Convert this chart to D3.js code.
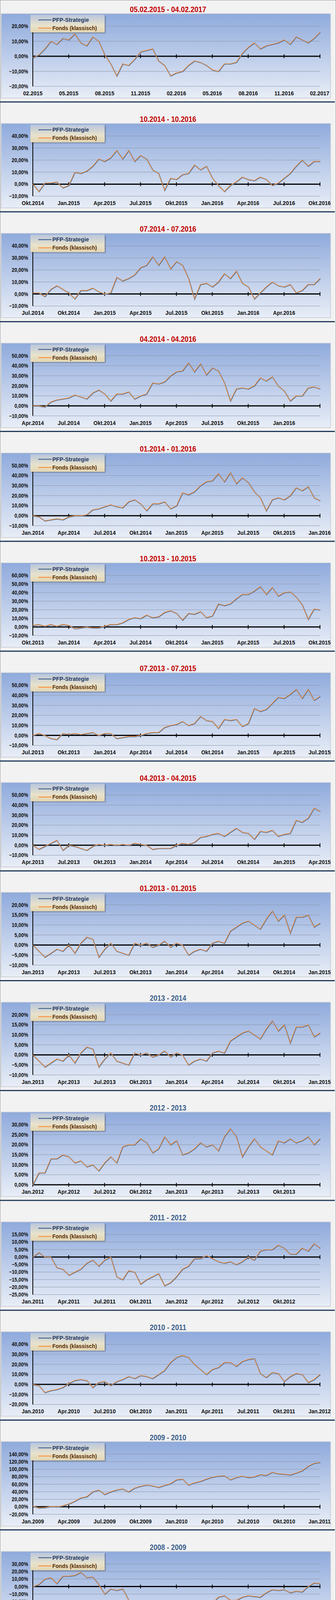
<!DOCTYPE html>
<html><head><meta charset="utf-8">
<script src="https://cdn.jsdelivr.net/npm/d3@7"></script>
<style>html,body{margin:0;padding:0;background:#f2f2f2;overflow:hidden}svg{display:block}</style>
</head><body><div id="c"></div>
<script>
const seriesNames = ["PFP-Strategie", "Fonds (klassisch)"];
const titles = ["05.02.2015 - 04.02.2017","10.2014 - 10.2016","07.2014 - 07.2016","04.2014 - 04.2016","01.2014 - 01.2016","10.2013 - 10.2015","07.2013 - 07.2015","04.2013 - 04.2015","01.2013 - 01.2015","2013 - 2014","2012 - 2013","2011 - 2012","2010 - 2011","2009 - 2010","2008 - 2009"];
const titleRed = [true,true,true,true,true,true,true,true,true,false,false,false,false,false,false];
const xLabels = [
 ["02.2015","05.2015","08.2015","11.2015","02.2016","05.2016","08.2016","11.2016","02.2017"],
 ["Okt.2014","Jan.2015","Apr.2015","Jul.2015","Okt.2015","Jan.2016","Apr.2016","Jul.2016","Okt.2016"],
 ["Jul.2014","Okt.2014","Jan.2015","Apr.2015","Jul.2015","Okt.2015","Jan.2016","Apr.2016",""],
 ["Apr.2014","Jul.2014","Okt.2014","Jan.2015","Apr.2015","Jul.2015","Okt.2015","Jan.2016",""],
 ["Jan.2014","Apr.2014","Jul.2014","Okt.2014","Jan.2015","Apr.2015","Jul.2015","Okt.2015","Jan.2016"],
 ["Okt.2013","Jan.2014","Apr.2014","Jul.2014","Okt.2014","Jan.2015","Apr.2015","Jul.2015","Okt.2015"],
 ["Jul.2013","Okt.2013","Jan.2014","Apr.2014","Jul.2014","Okt.2014","Jan.2015","Apr.2015","Jul.2015"],
 ["Apr.2013","Jul.2013","Okt.2013","Jan.2014","Apr.2014","Jul.2014","Okt.2014","Jan.2015","Apr.2015"],
 ["Jan.2013","Apr.2013","Jul.2013","Okt.2013","Jan.2014","Apr.2014","Jul.2014","Okt.2014","Jan.2015"],
 ["Jan.2013","Apr.2013","Jul.2013","Okt.2013","Jan.2014","Apr.2014","Jul.2014","Okt.2014","Jan.2015"],
 ["Jan.2012","Apr.2012","Jul.2012","Okt.2012","Jan.2013","Apr.2013","Jul.2013","Okt.2013",""],
 ["Jan.2011","Apr.2011","Jul.2011","Okt.2011","Jan.2012","Apr.2012","Jul.2012","Okt.2012",""],
 ["Jan.2010","Apr.2010","Jul.2010","Okt.2010","Jan.2011","Apr.2011","Jul.2011","Okt.2011","Jan.2012"],
 ["Jan.2009","Apr.2009","Jul.2009","Okt.2009","Jan.2010","Apr.2010","Jul.2010","Okt.2010","Jan.2011"],
 ["Jan.2008","Apr.2008","Jul.2008","Okt.2008","Jan.2009","Apr.2009","Jul.2009","Okt.2009",""]
];
const yTicks = [
 [20,10,0,-10,-20],[40,30,20,10,0,-10],[40,30,20,10,0,-10],[50,40,30,20,10,0,-10],[50,40,30,20,10,0,-10],
 [60,50,40,30,20,10,0,-10],[50,40,30,20,10,0,-10],[50,40,30,20,10,0,-10],[20,15,10,5,0,-5,-10],[20,15,10,5,0,-5,-10],
 [30,25,20,15,10,5,0],[15,10,5,0,-5,-10,-15,-20,-25],[40,30,20,10,0,-10,-20],[140,120,100,80,60,40,20,0,-20],[30,20,10,0,-10,-20,-30,-40,-50]
];
const fonds = [
 [-1,1,5,10,8,12,11,15,9,7,13,10,1,-5,-13,-5,-6,-2,3,4,5,-3,-6,-13,-11,-10,-6,-3,-4,-6,-9,-10,-5,-5,-4,2,6,9,5,7,8,9,11,8,13,11,9,12,16],
 [0,-6,1,1,2,-3,-1,10,9,11,15,21,19,22,28,21,28,19,24,21,12,9,-5,5,4,8,9,16,12,15,5,-1,-6,-1,2,6,4,3,6,4,-1,1,5,9,15,20,15,19,19],
 [1,1,-2,4,7,4,1,-4,3,3,5,2,0,1,14,11,13,16,22,24,31,24,31,21,27,24,13,-4,8,9,6,10,17,13,19,9,6,-4,1,6,10,7,6,8,1,3,8,8,13],
 [0,0,-1,4,6,7,8,11,9,7,13,16,12,5,12,12,14,7,10,12,23,22,24,30,34,35,43,34,42,31,38,35,23,5,17,18,17,20,28,25,29,20,15,5,10,10,18,19,17],
 [0,-1,-5,-4,-3,-4,-1,0,0,1,6,7,9,11,9,8,14,16,12,5,12,12,14,7,10,23,21,24,30,34,35,42,34,43,32,38,33,24,18,5,16,18,16,20,28,25,29,18,15],
 [2,3,1,3,1,3,2,-2,-1,0,-1,-1,1,3,3,5,9,11,10,14,11,12,17,19,16,8,16,15,18,11,13,27,25,27,33,38,38,42,47,38,46,36,40,41,35,26,9,21,20],
 [0,2,0,-3,-4,2,1,2,1,2,3,0,2,2,-3,-2,-1,-1,0,2,3,3,8,10,11,14,10,12,19,15,14,7,16,15,16,9,12,27,24,26,32,38,37,41,46,37,46,35,39],
 [0,-4,-1,2,5,-5,0,-1,-3,-5,-1,1,0,1,0,1,0,2,1,0,-4,-3,-3,-3,0,2,1,3,8,9,11,12,9,13,17,13,12,6,14,13,15,9,11,12,25,23,27,37,34],
 [0,-3,-6,-4,-2,-3,0,-4,1,4,3,-6,-2,1,-3,-4,-5,1,0,1,-1,0,2,-1,1,0,-5,-3,-2,-3,1,2,1,7,9,11,12,10,8,13,17,12,15,6,14,14,15,9,11],
 [0,-3,-6,-4,-2,-3,0,-4,1,4,3,-6,-2,1,-3,-4,-5,1,0,1,-1,0,2,-1,1,0,-5,-3,-2,-3,1,2,1,7,9,11,12,10,8,13,17,12,15,6,14,14,15,9,11],
 [0,6,6,13,13,15,14,11,12,9,10,7,11,14,11,19,20,20,23,21,16,18,24,20,22,15,16,18,21,19,20,17,24,28,24,14,19,23,19,17,15,22,21,23,21,22,24,20,23],
 [0,3,0,0,-7,-8,-12,-10,-8,-4,-2,-6,-2,0,-13,-15,-9,-10,-18,-15,-13,-11,-19,-17,-13,-8,-6,-1,-1,1,-1,-3,-4,-3,-5,-3,0,-2,4,5,5,8,6,2,2,6,4,9,6],
 [0,-1,-8,-6,-5,-3,1,4,5,4,-3,2,3,-1,3,5,8,6,9,8,6,10,14,22,27,29,27,20,15,10,15,17,22,22,18,23,25,26,11,7,12,11,3,8,11,10,2,5,10],
 [2,-3,-2,1,0,3,8,15,24,27,40,45,33,40,45,48,40,50,55,58,56,52,57,62,72,74,58,64,68,74,79,82,83,72,78,82,78,80,86,84,92,88,87,85,90,96,108,116,118],
 [0,3,10,12,4,14,14,15,19,12,13,3,-10,-3,-5,-3,-18,-20,-32,-26,-36,-35,-40,-42,-42,-40,-40,-36,-32,-25,-22,-14,-12,-18,-18,-14,-12,-13,-14,-8,-4,-5,-4,-8,-6,-7,0,5,4]
];
const pfp = fonds; // the two series overlap almost exactly in the picture

const W = 860, PH = 281.2;
const svg = d3.select("#c").append("svg").attr("width", W).attr("height", 4232);
const defs = svg.append("defs");
const bg = defs.append("linearGradient").attr("id","bg").attr("x1",0).attr("y1",0).attr("x2",0).attr("y2",1);
bg.append("stop").attr("offset","0%").attr("stop-color","#8faadc");
bg.append("stop").attr("offset","100%").attr("stop-color","#e9eef7");
const lg = defs.append("linearGradient").attr("id","lg").attr("x1",0).attr("y1",0).attr("x2",0).attr("y2",1);
lg.append("stop").attr("offset","0%").attr("stop-color","#b9c6dc");
lg.append("stop").attr("offset","60%").attr("stop-color","#e8e2cc");
lg.append("stop").attr("offset","100%").attr("stop-color","#e3d6b2");
const sh = defs.append("filter").attr("id","sh").attr("x","-10%").attr("y","-10%").attr("width","130%").attr("height","140%");
sh.append("feDropShadow").attr("dx",2).attr("dy",2).attr("stdDeviation",1.5).attr("flood-opacity",0.35);

const FONT = "'Liberation Sans','Arial',sans-serif";
function txt(g, s, x, y, size, perChar, anchor, fill) {
  const t = g.append("text").attr("x",x).attr("y",y).attr("text-anchor",anchor).attr("font-family",FONT)
    .attr("font-weight","bold").attr("font-size",size).attr("fill",fill).text(s);
  if (s.length) t.attr("textLength", s.length*perChar).attr("lengthAdjust","spacingAndGlyphs");
  return t;
}
svg.append("rect").attr("x",0.5).attr("y",0.5).attr("width",W-1).attr("height",4231).attr("fill","none").attr("stroke","#9a9a9a");

titles.forEach((t, k) => {
  const g = svg.append("g").attr("transform", `translate(0,${k*PH})`);
  txt(g, t, 430, 31, 21, 8.5, "middle", titleRed[k] ? "#c00000" : "#3b5f8c");
  g.append("rect").attr("x",3).attr("y",35).attr("width",843).attr("height",216)
    .attr("fill","url(#bg)").attr("stroke","#c3c9d3").attr("stroke-width",1.5);
  const tk = yTicks[k];
  const y = d3.scaleLinear().domain([d3.min(tk), d3.max(tk)]).range([221, 67]);
  const x = d3.scaleLinear().domain([0, fonds[k].length-1]).range([84, 819]);
  tk.forEach(v => {
    g.append("line").attr("x1",84).attr("x2",819).attr("y1",y(v)).attr("y2",y(v)).attr("stroke","#8d98aa").attr("stroke-width",1);
    const s = d3.format(".2f")(v).replace(".",",")+"%";
    txt(g, s, 72, y(v)+5, 14, 7.0, "end", "#111");
  });
  g.append("line").attr("x1",84).attr("x2",84).attr("y1",70).attr("y2",221).attr("stroke","#000").attr("stroke-width",2);
  const q = d3.scaleLinear().domain([0,8]).range([84,819]);
  g.append("line").attr("x1",84).attr("x2",819).attr("y1",y(0)).attr("y2",y(0)).attr("stroke","#000").attr("stroke-width",3);
  d3.range(9).forEach(i => {
    g.append("line").attr("x1",q(i)).attr("x2",q(i)).attr("y1",y(0)-5).attr("y2",y(0)+5).attr("stroke","#000").attr("stroke-width",2);
    txt(g, xLabels[k][i], Math.min(q(i), 818), 244, 14, 7.1, "middle", "#111");
  });
  const line = d3.line().x((d,i)=>x(i)).y(d=>y(d)).curve(d3.curveLinear);
  g.append("path").attr("d", line(pfp[k])).attr("fill","none").attr("stroke","#4a6b94").attr("stroke-width",2.6).attr("transform","translate(0.8,0.8)");
  g.append("path").attr("d", line(fonds[k])).attr("fill","none").attr("stroke","#f79646").attr("stroke-width",1.6);
  const lgG = g.append("g").attr("transform","translate(78,38)");
  lgG.append("rect").attr("width",190).attr("height",45).attr("fill","url(#lg)").attr("filter","url(#sh)");
  lgG.append("line").attr("x1",20).attr("x2",54).attr("y1",13).attr("y2",13).attr("stroke","#4a6b94").attr("stroke-width",2.5);
  lgG.append("line").attr("x1",20).attr("x2",54).attr("y1",34).attr("y2",34).attr("stroke","#f79646").attr("stroke-width",2.5);
  txt(lgG, seriesNames[0], 56, 18, 15, 7.2, "start", "#1f3864");
  txt(lgG, seriesNames[1], 56, 39, 15, 6.7, "start", "#5a2d00");
  g.append("line").attr("x1",0).attr("x2",857).attr("y1",261).attr("y2",261).attr("stroke","#1f3a5a").attr("stroke-width",3);
});
</script></body></html>
